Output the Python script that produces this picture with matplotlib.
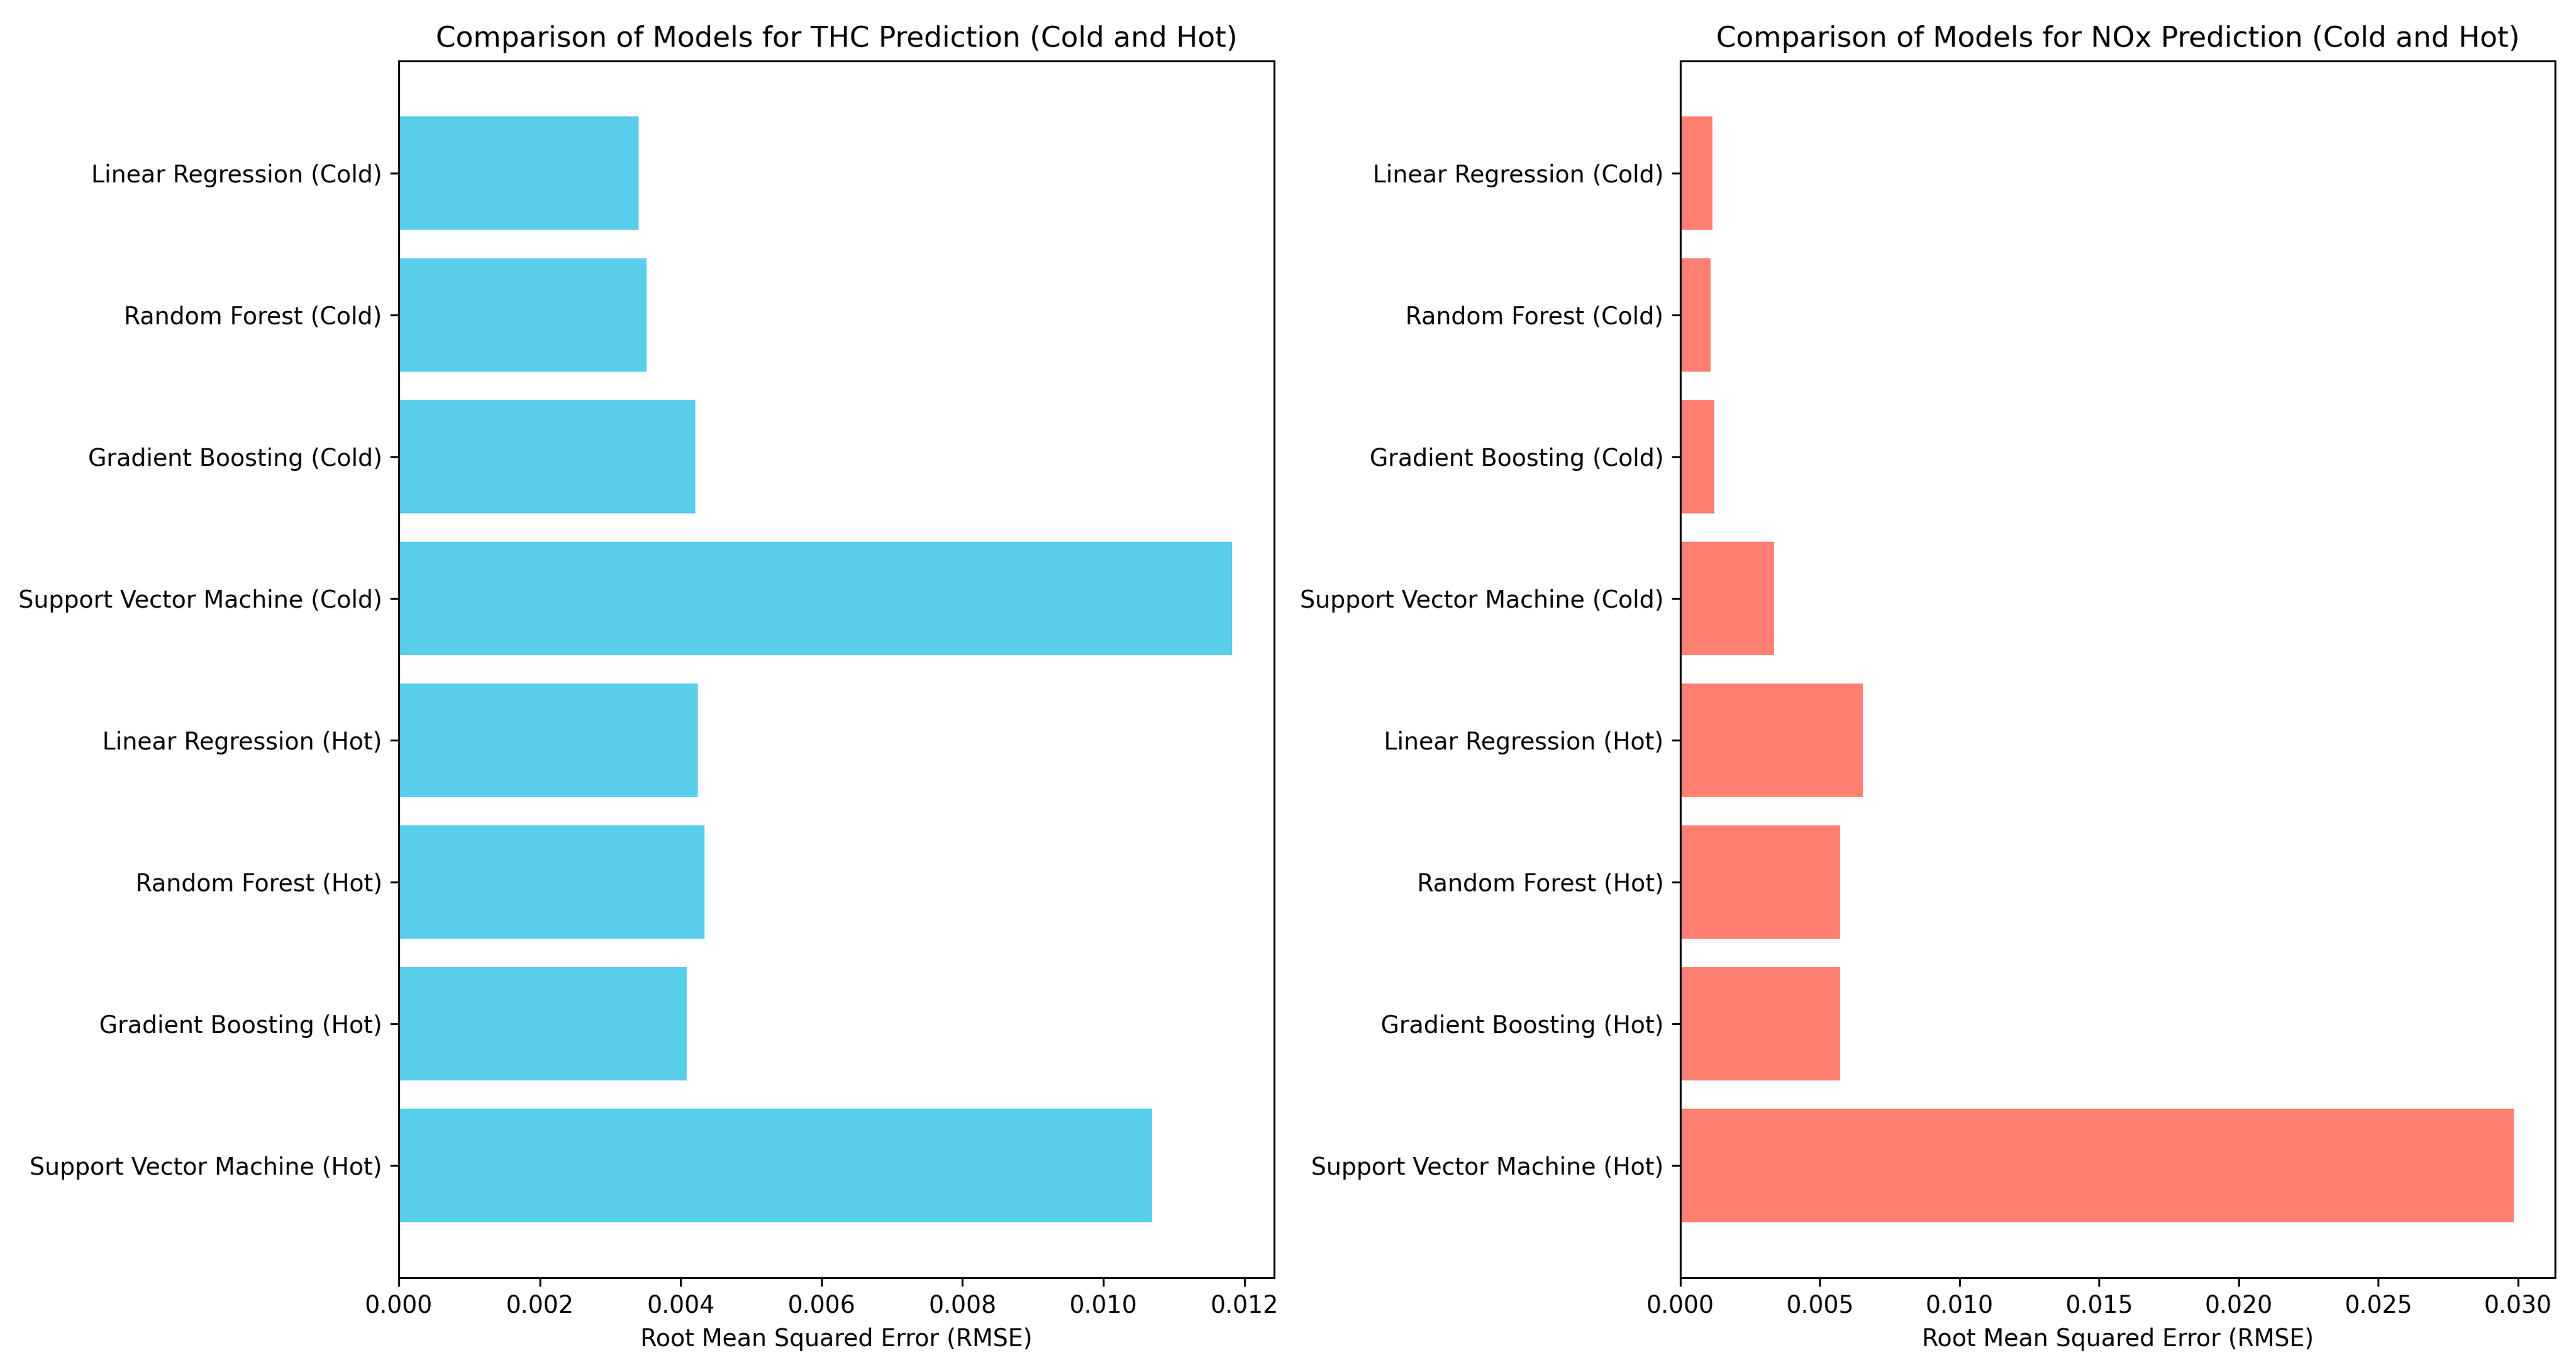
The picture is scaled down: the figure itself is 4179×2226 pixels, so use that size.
import matplotlib
matplotlib.use('Agg')
import matplotlib.pyplot as plt

# модели сверху вниз
models = [
    'Linear Regression (Cold)', 'Random Forest (Cold)', 'Gradient Boosting (Cold)',
    'Support Vector Machine (Cold)', 'Linear Regression (Hot)', 'Random Forest (Hot)',
    'Gradient Boosting (Hot)', 'Support Vector Machine (Hot)',
]

thc_rmse = [0.00340, 0.00352, 0.00421, 0.01183, 0.00424, 0.00434, 0.00409, 0.01069]
nox_rmse = [0.00114, 0.00108, 0.00121, 0.00335, 0.00654, 0.00572, 0.00572, 0.02984]

thc_color = '#58CEEB'
nox_color = '#FF8072'

DPI = 278
fig, (ax1, ax2) = plt.subplots(1, 2, figsize=(4179 / DPI, 2226 / DPI))

ax1.barh(models, thc_rmse, color=thc_color)
ax1.set_title('Comparison of Models for THC Prediction (Cold and Hot)')
ax1.set_xlabel('Root Mean Squared Error (RMSE)')
ax1.invert_yaxis()

ax2.barh(models, nox_rmse, color=nox_color)
ax2.set_title('Comparison of Models for NOx Prediction (Cold and Hot)')
ax2.set_xlabel('Root Mean Squared Error (RMSE)')
ax2.invert_yaxis()

ax1.set_position([0.1548, 0.0687, 0.4946 - 0.1548, 0.9555 - 0.0687])
ax2.set_position([0.6523, 0.0687, 0.9919 - 0.6523, 0.9555 - 0.0687])

plt.savefig('out.png', dpi=DPI)
plt.close()
